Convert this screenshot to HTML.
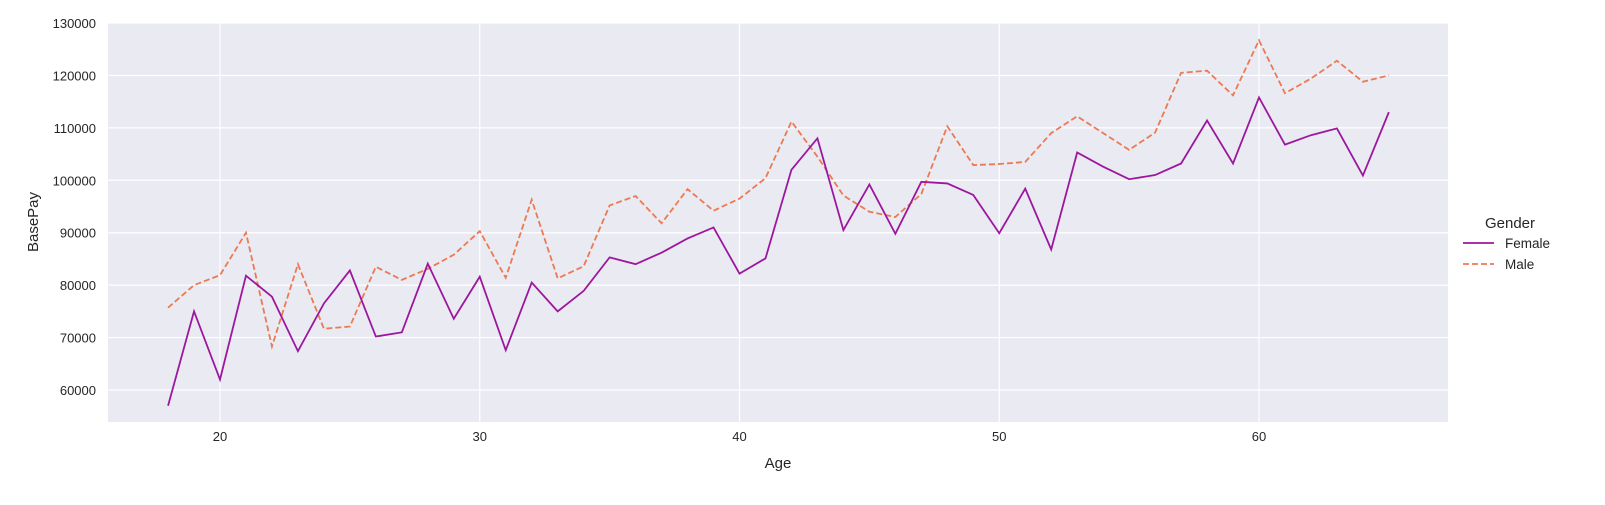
<!DOCTYPE html>
<html><head><meta charset="utf-8"><style>
body{margin:0;background:#fff;}
svg text{font-family:"Liberation Sans","DejaVu Sans",sans-serif;fill:#262626;}
</style></head><body>
<svg id="chart" width="1605" height="500" xmlns="http://www.w3.org/2000/svg">
<rect x="108" y="23" width="1340" height="399" fill="#eaeaf2"/>
<g id="grid"></g><g id="series"></g><g id="ticks"></g>
<text x="778" y="468" font-size="15" text-anchor="middle">Age</text>
<text transform="translate(38,222) rotate(-90)" font-size="15" text-anchor="middle">BasePay</text>
<g>
<text x="1510" y="228" font-size="15" text-anchor="middle">Gender</text>
<line x1="1463" y1="243" x2="1494" y2="243" stroke="#9c179e" stroke-width="1.8"/>
<text x="1505" y="248" font-size="13.5">Female</text>
<line x1="1463" y1="264" x2="1494" y2="264" stroke="#ed7953" stroke-width="1.8" stroke-dasharray="6,3"/>
<text x="1505" y="269" font-size="13.5">Male</text>
</g>
</svg>
<script>
const ages=[18,19,20,21,22,23,24,25,26,27,28,29,30,31,32,33,34,35,36,37,38,39,40,41,42,43,44,45,46,47,48,49,50,51,52,53,54,55,56,57,58,59,60,61,62,63,64,65];
const female=[57000,75000,62000,81800,77800,67400,76500,82800,70200,71000,84100,73600,81600,67600,80500,75000,78900,85300,84000,86200,88900,91000,82200,85100,102000,108000,90500,99200,89800,99700,99400,97200,89900,98400,86800,105300,102600,100200,101000,103200,111400,103200,115800,106800,108600,109900,100900,113000];
const male=[75700,80000,81900,90000,68300,84000,71700,72100,83500,81000,83100,85800,90300,81400,96300,81300,83600,95200,97000,91800,98300,94200,96500,100400,111200,104500,97100,94000,93000,97400,110300,102900,103100,103500,109000,112200,109000,105800,109100,120500,120900,116200,126700,116600,119400,122800,118800,120000];
const xTicks=[20,30,40,50,60];
const yTicks=[60000,70000,80000,90000,100000,110000,120000,130000];
const NS="http://www.w3.org/2000/svg";
const X=v=>220+(v-20)*25.975;
const Y=v=>390-(v-60000)*(367/70000);
const grid=document.getElementById('grid'),ticks=document.getElementById('ticks'),ser=document.getElementById('series');
function mk(tag,attrs,parent){const e=document.createElementNS(NS,tag);for(const k in attrs)e.setAttribute(k,attrs[k]);parent.appendChild(e);return e;}
xTicks.forEach(t=>{
 const l=mk('line',{x1:X(t),x2:X(t),y1:23,y2:422,stroke:'#fff','stroke-width':1.2},grid);
 
 
 const tx=mk('text',{x:X(t),y:441,'font-size':13,'text-anchor':'middle'},ticks);tx.textContent=t;
 
 
});
yTicks.forEach(t=>{
 const l=mk('line',{x1:108,x2:1448,y1:Y(t),y2:Y(t),stroke:'#fff','stroke-width':1.2},grid);
 
 
 const tx=mk('text',{x:96,y:Y(t)+5,'font-size':13,'text-anchor':'end'},ticks);tx.textContent=t;
 
 
});
function line(vals,color,dash,name){
 const p=mk('polyline',{points:vals.map((v,i)=>X(ages[i])+','+Y(v)).join(' '),fill:'none',stroke:color,'stroke-width':1.8,'stroke-dasharray':dash},ser);
 
 
}
line(male,'#ed7953','6,3','male-line');
line(female,'#9c179e','none','female-line');
</script>
</body></html>
